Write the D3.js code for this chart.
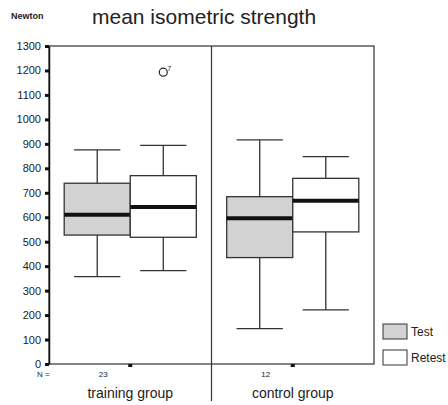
<!DOCTYPE html>
<html>
<head>
<meta charset="utf-8">
<script src="https://cdn.jsdelivr.net/npm/d3@7"></script>
<style>
  body { margin: 0; background: #fff; }
  #chart { width: 448px; height: 405px; }
  text { font-family: "Liberation Sans", Arial, sans-serif; fill: #222; }
</style>
</head>
<body>
<div id="chart"></div>
<script>
// groups and series
const groups = ["training group", "control group"];
const series = ["Test", "Retest"];
const groupN = ["23", "12"];
const yTicks = [0, 100, 200, 300, 400, 500, 600, 700, 800, 900, 1000, 1100, 1200, 1300];

// box stats: [low whisker, Q1, median, Q3, high whisker]
const trainingTest   = [357, 527, 610, 739, 875];
const trainingRetest = [382, 518, 642, 770, 894];
const controlTest    = [145, 435, 596, 684, 916];
const controlRetest  = [221, 540, 667, 759, 848];

// outliers: [group, series, value, case label]
const outliers = [["training group", "Retest", 1193, "7"]];

const boxes = [
    {group: "training group", series: "Test", v: trainingTest},
    {group: "training group", series: "Retest", v: trainingRetest},
    {group: "control group", series: "Test", v: controlTest},
    {group: "control group", series: "Retest", v: controlRetest}
];

const width = 448, height = 405;
const margin = {top: 46, left: 49, right: 74, bottom: 41};

const svg = d3.select("#chart").append("svg")
    .attr("width", width)
    .attr("height", height);

// Scales
const xScale = d3.scaleBand()
    .domain(groups)
    .range([margin.left, width - margin.right])
    .padding(0);

const xSub = d3.scaleBand()
    .domain(series)
    .range([0, xScale.bandwidth()])
    .paddingInner(0)
    .paddingOuter(0.23);

const yScale = d3.scaleLinear()
    .domain([0, 1300])
    .range([height - margin.bottom, margin.top]);

const fillScale = d3.scaleOrdinal()
    .domain(series)
    .range(["#d2d2d2", "#ffffff"]);

const stroke = "#333";
const bw = xSub.bandwidth();

// Frame
svg.append("rect")
    .attr("x", margin.left)
    .attr("y", margin.top)
    .attr("width", width - margin.right - margin.left)
    .attr("height", height - margin.bottom - margin.top)
    .attr("fill", "none")
    .attr("stroke", stroke)
    .attr("stroke-width", 1.2);

// divider between groups, runs down past the axis
svg.append("line")
    .attr("x1", xScale("control group")).attr("x2", xScale("control group"))
    .attr("y1", margin.top).attr("y2", 401)
    .attr("stroke", stroke).attr("stroke-width", 1.2);

// Y axis
const yAxis = svg.append("g")
    .attr("transform", `translate(${margin.left},0)`)
    .call(d3.axisLeft(yScale).tickValues(yTicks).tickFormat(d3.format("d")).tickSize(0).tickPadding(8));
yAxis.select(".domain").attr("stroke", "#111").attr("stroke-width", 1.5);
yAxis.selectAll("text")
    .style("font-size", "11px")
    .style("font-family", "Liberation Sans, Arial, sans-serif")
    .attr("fill", "#222");
yAxis.selectAll(".tick").append("rect")
    .attr("x", -4).attr("y", -1.5)
    .attr("width", 4).attr("height", 3)
    .attr("fill", "#111");

// X axis tick marks (group centres)
svg.selectAll(".xtick")
    .data(groups)
    .enter()
    .append("rect")
    .attr("class", "xtick")
    .attr("x", d => xScale(d) + xScale.bandwidth() / 2 - 2)
    .attr("y", height - margin.bottom)
    .attr("width", 4).attr("height", 3)
    .attr("fill", "#111");

// N labels
svg.append("text")
    .attr("x", 37).attr("y", 377)
    .style("font-size", "8px")
    .text("N =");

svg.selectAll(".nlab")
    .data(groups)
    .enter()
    .append("text")
    .attr("class", "nlab")
    .attr("x", (d) => xScale(d) + xSub("Test") + bw / 2 + 6)
    .attr("y", 377)
    .attr("text-anchor", "middle")
    .style("font-size", "8px")
    .text((d, i) => groupN[i]);

// group labels
svg.selectAll(".glab")
    .data(groups)
    .enter()
    .append("text")
    .attr("class", "glab")
    .attr("x", d => xScale(d) + xScale.bandwidth() / 2)
    .attr("y", 398)
    .attr("text-anchor", "middle")
    .style("font-size", "14px")
    .text(d => d);

// Boxes
const box = svg.selectAll(".box")
    .data(boxes)
    .enter()
    .append("g")
    .attr("class", "box")
    .attr("transform", d => `translate(${xScale(d.group) + xSub(d.series)},0)`);

// whisker stems
box.append("line")
    .attr("x1", bw / 2).attr("x2", bw / 2)
    .attr("y1", d => yScale(d.v[0])).attr("y2", d => yScale(d.v[4]))
    .attr("stroke", stroke).attr("stroke-width", 1.3);

// whisker caps
box.selectAll(".cap")
    .data(d => [d.v[0], d.v[4]])
    .enter()
    .append("line")
    .attr("class", "cap")
    .attr("x1", bw * 0.15).attr("x2", bw * 0.85)
    .attr("y1", v => yScale(v)).attr("y2", v => yScale(v))
    .attr("stroke", stroke).attr("stroke-width", 1.3);

box.append("rect")
    .attr("x", 0)
    .attr("y", d => yScale(d.v[3]))
    .attr("width", bw)
    .attr("height", d => yScale(d.v[1]) - yScale(d.v[3]))
    .attr("fill", d => fillScale(d.series))
    .attr("stroke", stroke)
    .attr("stroke-width", 1.3);

// medians
box.append("line")
    .attr("x1", 0).attr("x2", bw)
    .attr("y1", d => yScale(d.v[2])).attr("y2", d => yScale(d.v[2]))
    .attr("stroke", "#111").attr("stroke-width", 4);

// outliers
outliers.forEach(o => {
    const cx = xScale(o[0]) + xSub(o[1]) + bw / 2;
    svg.append("circle")
        .attr("cx", cx).attr("cy", yScale(o[2]))
        .attr("r", 4)
        .attr("fill", "none")
        .attr("stroke", "#222").attr("stroke-width", 1.2);
    svg.append("text")
        .attr("x", cx + 4).attr("y", yScale(o[2]) - 1)
        .style("font-size", "7px")
        .text(o[3]);
});

// Legend
const legend = svg.selectAll(".legend")
    .data(series)
    .enter()
    .append("g")
    .attr("class", "legend")
    .attr("transform", (d, i) => `translate(383,${324 + i * 26})`);

legend.append("rect")
    .attr("width", 24).attr("height", 15)
    .attr("fill", d => fillScale(d))
    .attr("stroke", stroke).attr("stroke-width", 1);

legend.append("text")
    .attr("x", 28).attr("y", 12)
    .style("font-size", "12px")
    .text(d => d);

// Title and unit
svg.append("text")
    .attr("x", 92).attr("y", 24)
    .style("font-size", "21px")
    .text("mean isometric strength");

svg.append("text")
    .attr("x", 11).attr("y", 19)
    .style("font-size", "9px")
    .style("font-weight", "bold")
    .text("Newton");
</script>
</body>
</html>
